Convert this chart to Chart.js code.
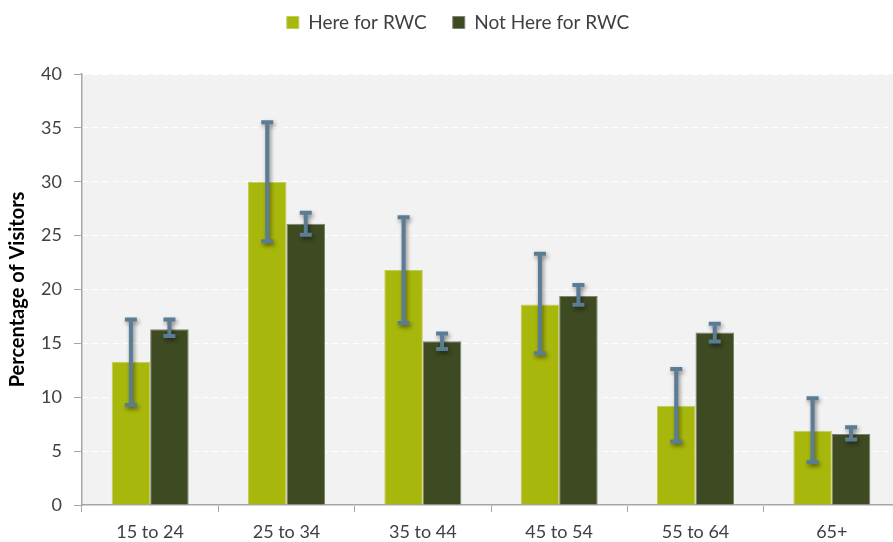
<!DOCTYPE html>
<html>
<head>
<meta charset="utf-8">
<script src="https://cdn.jsdelivr.net/npm/chart.js@4/dist/chart.umd.min.js"></script>
<style>
    html, body { margin: 0; padding: 0; background: #ffffff; overflow: hidden; }
    #wrap { width: 900px; height: 542px; }
</style>
</head>
<body>
<div id="wrap"><canvas id="visitors"></canvas></div>
<script>
let categories = ["15 to 24", "25 to 34", "35 to 44", "45 to 54", "55 to 64", "65+"];

let hereValues = [13.3, 30.0, 21.8, 18.6, 9.2, 6.9];
let hereLow = [9.1, 24.3, 16.7, 13.9, 5.7, 3.8];
let hereHigh = [17.4, 35.7, 26.9, 23.5, 12.8, 10.1];

let notHereValues = [16.3, 26.1, 15.2, 19.4, 16.0, 6.6];
let notHereLow = [15.5, 24.9, 14.3, 18.4, 15.0, 5.9];
let notHereHigh = [17.4, 27.3, 16.1, 20.6, 17.0, 7.4];

let yTicks = [0, 5, 10, 15, 20, 25, 30, 35, 40];

const fontFamily = "Lato, 'Open Sans', sans-serif";
const textColor = "#404040";
const axisColor = "#a6a6a6";

// light grey panel behind the bars
const plotBackground = {
    id: "plotBackground",
    beforeDraw(chart) {
        let { ctx, chartArea } = chart;
        ctx.save();
        ctx.fillStyle = "#f2f2f2";
        ctx.fillRect(chartArea.left, chartArea.top, chartArea.right - chartArea.left, chartArea.bottom - chartArea.top);
        ctx.restore();
    }
};

// leave room between the legend and the plot, and nudge it right a little
const legendGap = {
    id: "legendGap",
    afterInit(chart) {
        let fit = chart.legend.fit;
        chart.legend.fit = function () {
            fit.call(this);
            this.height = 87;
        };
    },
    afterLayout(chart) {
        chart.legend.left += 8;
        chart.legend.right += 8;
    }
};

// I-shaped error bars with a soft shadow
const errorBars = {
    id: "errorBars",
    afterDatasetsDraw(chart) {
        let ctx = chart.ctx;
        let yScale = chart.scales.y;
        chart.data.datasets.forEach((ds, i) => {
            let meta = chart.getDatasetMeta(i);
            meta.data.forEach((bar, j) => {
                let top = yScale.getPixelForValue(ds.errorHigh[j]) + 2;
                let bottom = yScale.getPixelForValue(ds.errorLow[j]) - 2;
                let x = bar.x;
                ctx.save();
                ctx.shadowColor = "rgba(0, 0, 0, 0.45)";
                ctx.shadowBlur = 4;
                ctx.shadowOffsetX = 1.5;
                ctx.shadowOffsetY = 2.5;
                ctx.strokeStyle = "#5b7c95";
                ctx.lineCap = "butt";
                ctx.beginPath();
                ctx.lineWidth = 4;
                ctx.moveTo(x, top);
                ctx.lineTo(x, bottom);
                ctx.moveTo(x - 6, top);
                ctx.lineTo(x + 6, top);
                ctx.moveTo(x - 6, bottom);
                ctx.lineTo(x + 6, bottom);
                ctx.stroke();
                ctx.restore();
            });
        });
    }
};

new Chart(document.getElementById("visitors"), {
    type: "bar",
    data: {
        labels: categories,
        datasets: [{
            label: "Here for RWC",
            data: hereValues,
            errorLow: hereLow,
            errorHigh: hereHigh,
            backgroundColor: "#a8b70c",
            borderColor: "#c2cd5a",
            borderWidth: 1,
            categoryPercentage: 0.565,
            barPercentage: 1
        }, {
            label: "Not Here for RWC",
            data: notHereValues,
            errorLow: notHereLow,
            errorHigh: notHereHigh,
            backgroundColor: "#3e4a22",
            borderColor: "#7d8470",
            borderWidth: 1,
            categoryPercentage: 0.565,
            barPercentage: 1
        }]
    },
    options: {
        responsive: true,
        maintainAspectRatio: false,
        animation: false,
        layout: { padding: { top: -13, left: 0, right: 0, bottom: 0 } },
        plugins: {
            tooltip: { enabled: false },
            legend: {
                position: "top",
                labels: {
                    boxWidth: 12,
                    boxHeight: 12,
                    padding: 26,
                    color: textColor,
                    font: { family: fontFamily, size: 19 }
                }
            }
        },
        scales: {
            x: {
                afterFit(scale) { scale.height = 37; },
                grid: {
                    offset: true,
                    drawOnChartArea: false,
                    tickLength: 7,
                    tickColor: axisColor
                },
                border: { color: axisColor, width: 1.5 },
                ticks: {
                    padding: 9,
                    color: textColor,
                    font: { family: fontFamily, size: 18 }
                }
            },
            y: {
                min: 0,
                max: 40,
                afterFit(scale) { scale.width = 82; },
                afterBuildTicks(scale) { scale.ticks = yTicks.map(v => ({ value: v })); },
                grid: {
                    color: "#ffffff",
                    lineWidth: 1,
                    tickLength: 8,
                    tickColor: axisColor
                },
                border: { color: axisColor, width: 1.5, dash: [6, 4] },
                ticks: {
                    padding: 12,
                    color: textColor,
                    font: { family: fontFamily, size: 18 }
                },
                title: {
                    display: true,
                    text: "Percentage of Visitors",
                    color: "#000000",
                    padding: { top: 6, bottom: 0 },
                    font: { family: fontFamily, size: 20, weight: "bold" }
                }
            }
        }
    },
    plugins: [plotBackground, legendGap, errorBars]
});
</script>
</body>
</html>
